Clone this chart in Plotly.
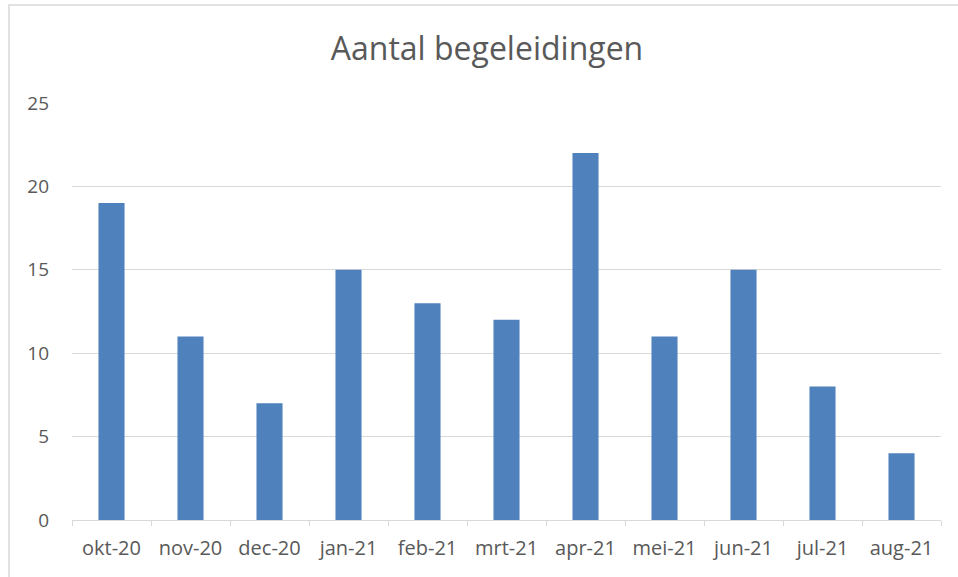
import plotly.graph_objects as go

months = ["okt-20", "nov-20", "dec-20", "jan-21", "feb-21", "mrt-21",
          "apr-21", "mei-21", "jun-21", "jul-21", "aug-21"]
values = [19, 11, 7, 15, 13, 12, 22, 11, 15, 8, 4]
y_ticks = [0, 5, 10, 15, 20, 25]

W, H = 958, 577
L, R, T, B = 72, 17, 103, 57
pw, ph = W - L - R, H - T - B

fig = go.Figure(go.Bar(x=months, y=values, marker_color="#4F81BD",
                       marker_line_width=0))

def px_x(p):
    return (p - L) / pw

def px_y(p):
    return (H - B - p) / ph

fig.update_layout(
    width=W, height=H,
    margin=dict(l=L, r=R, t=T, b=B),
    paper_bgcolor="white", plot_bgcolor="white",
    bargap=0.67,
    showlegend=False,
    font=dict(family="Open Sans, sans-serif", color="#595959", size=19),
    title=dict(text="Aantal begeleidingen", xref="paper", x=px_x(487),
               xanchor="center", y=1 - 49 / H, yanchor="middle",
               font=dict(size=32, color="#595959")),
    xaxis=dict(showline=True, linecolor="#D9D9D9", linewidth=1,
               ticks="outside", tickson="boundaries", ticklen=5,
               tickcolor="#D9D9D9", ticklabelstandoff=10,
               showgrid=False, tickfont=dict(size=20, color="#595959")),
    yaxis=dict(range=[0, 25], tickvals=y_ticks, showgrid=True,
               gridcolor="#D9D9D9", gridwidth=1, zeroline=False,
               showline=False, ticks="", ticklabelstandoff=22,
               tickfont=dict(size=19, color="#595959")),
    shapes=[dict(type="rect", xref="paper", yref="paper",
                 x0=px_x(9), x1=px_x(W + 10), y0=px_y(H + 10), y1=px_y(5),
                 line=dict(color="#D9D9D9", width=1.5))],
)

fig.write_html("out.html",
               config={"displayModeBar": False},
               post_script="document.body.style.margin='0px';"
                           "document.body.style.overflow='hidden';")
